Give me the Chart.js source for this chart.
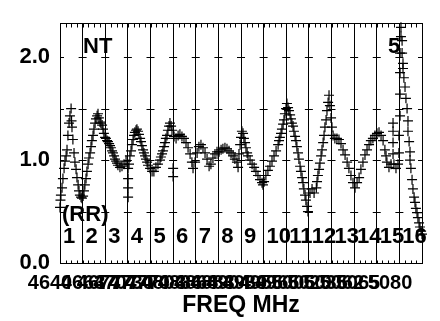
<!DOCTYPE html>
<html>
<head>
<meta charset="utf-8">
<script src="https://cdn.jsdelivr.net/npm/chart.js@4.4.1/dist/chart.umd.min.js"></script>
<style>
  body { margin: 0; background: #fff; }
  canvas { display: block; }
</style>
</head>
<body>
<canvas id="c" width="440" height="321"></canvas>
<script>
// x = position along the 16 channels (0..16), y = ratio
const xVals = [
  0.00, 0.02, 0.04, 0.09, 0.13, 0.18, 0.22, 0.27, 0.31, 0.35, 0.40, 0.44, 0.49, 0.51, 0.53, 0.57, 0.62, 0.66, 0.71, 0.75,
  0.80, 0.84, 0.88, 0.93, 0.97, 1.02, 1.06, 1.10, 1.15, 1.19, 1.24, 1.28, 1.33, 1.37, 1.41, 1.46, 1.50, 1.55, 1.59, 1.64,
  1.68, 1.72, 1.77, 1.81, 1.86, 1.90, 1.94, 1.99, 2.03, 2.08, 2.12, 2.17, 2.21, 2.25, 2.30, 2.34, 2.39, 2.43, 2.48, 2.52,
  2.56, 2.65, 2.74, 2.83, 2.92, 3.01, 3.01, 3.01, 3.01, 3.05, 3.09, 3.14, 3.18, 3.23, 3.27, 3.31, 3.36, 3.40, 3.45, 3.49,
  3.54, 3.58, 3.62, 3.67, 3.71, 3.76, 3.80, 3.85, 3.89, 3.98, 4.07, 4.15, 4.24, 4.33, 4.42, 4.46, 4.51, 4.55, 4.60, 4.64,
  4.68, 4.73, 4.77, 4.82, 4.86, 4.91, 4.95, 5.00, 5.00, 5.04, 5.13, 5.22, 5.30, 5.39, 5.48, 5.57, 5.66, 5.75, 5.83, 5.88,
  5.97, 6.06, 6.14, 6.23, 6.32, 6.41, 6.50, 6.59, 6.67, 6.76, 6.85, 6.94, 7.03, 7.12, 7.20, 7.29, 7.38, 7.47, 7.56, 7.65,
  7.73, 7.82, 7.87, 7.91, 7.96, 8.00, 8.04, 8.09, 8.13, 8.18, 8.22, 8.27, 8.31, 8.40, 8.49, 8.58, 8.66, 8.75, 8.84, 8.93,
  8.97, 9.02, 9.10, 9.19, 9.28, 9.37, 9.46, 9.55, 9.64, 9.68, 9.72, 9.77, 9.81, 9.86, 9.90, 9.94, 9.99, 10.03, 10.08, 10.12,
  10.17, 10.21, 10.25, 10.30, 10.34, 10.39, 10.43, 10.47, 10.52, 10.56, 10.61, 10.65, 10.70, 10.74, 10.78, 10.83, 10.87, 10.92, 10.96, 11.05,
  11.14, 11.23, 11.33, 11.36, 11.40, 11.45, 11.49, 11.54, 11.58, 11.63, 11.67, 11.71, 11.76, 11.80, 11.85, 11.89, 11.93, 11.98, 12.02, 12.07,
  12.15, 12.24, 12.33, 12.42, 12.51, 12.60, 12.69, 12.77, 12.86, 12.95, 13.04, 13.13, 13.22, 13.30, 13.39, 13.48, 13.57, 13.66, 13.74, 13.83,
  13.92, 14.01, 14.10, 14.19, 14.28, 14.36, 14.41, 14.45, 14.54, 14.63, 14.72, 14.72, 14.72, 14.72, 14.76, 14.85, 14.94, 14.98, 14.98, 15.03,
  15.03, 15.03, 15.03, 15.07, 15.07, 15.12, 15.12, 15.16, 15.16, 15.20, 15.25, 15.29, 15.34, 15.38, 15.38, 15.43, 15.47, 15.47, 15.51, 15.56,
  15.60, 15.65, 15.69, 15.73, 15.78, 15.82, 15.87, 15.91, 15.96, 16.00
];
const yVals = [
  0.54, 0.61, 0.66, 0.73, 0.82, 0.92, 0.99, 1.04, 1.10, 1.24, 1.36, 1.43, 1.50, 1.38, 1.32, 1.20, 1.07, 0.98, 0.91, 0.83,
  0.76, 0.70, 0.66, 0.64, 0.63, 0.65, 0.70, 0.76, 0.82, 0.89, 0.96, 1.02, 1.07, 1.13, 1.19, 1.24, 1.30, 1.36, 1.40, 1.43,
  1.45, 1.41, 1.37, 1.36, 1.34, 1.30, 1.26, 1.22, 1.21, 1.19, 1.18, 1.16, 1.14, 1.12, 1.09, 1.07, 1.04, 1.01, 0.99, 0.97,
  0.95, 0.93, 0.94, 0.96, 0.99, 0.92, 0.82, 0.73, 0.64, 0.96, 1.04, 1.09, 1.15, 1.20, 1.24, 1.27, 1.29, 1.30, 1.28, 1.25,
  1.21, 1.18, 1.14, 1.10, 1.07, 1.04, 1.01, 0.98, 0.95, 0.92, 0.89, 0.89, 0.93, 0.96, 1.00, 1.03, 1.06, 1.09, 1.13, 1.17,
  1.21, 1.24, 1.29, 1.33, 1.36, 1.33, 1.29, 0.92, 0.84, 1.23, 1.21, 1.24, 1.25, 1.23, 1.21, 1.17, 1.12, 1.06, 0.98, 0.92,
  0.98, 1.07, 1.13, 1.15, 1.12, 1.07, 1.01, 0.94, 0.96, 1.02, 1.06, 1.08, 1.08, 1.10, 1.11, 1.12, 1.11, 1.09, 1.07, 1.04,
  1.01, 0.98, 0.93, 1.06, 1.15, 1.22, 1.28, 1.26, 1.21, 1.17, 1.12, 1.07, 1.04, 1.00, 0.96, 0.93, 0.89, 0.85, 0.81, 0.78,
  0.76, 0.79, 0.85, 0.90, 0.94, 0.99, 1.04, 1.09, 1.15, 1.19, 1.22, 1.26, 1.30, 1.35, 1.39, 1.45, 1.50, 1.55, 1.51, 1.48,
  1.44, 1.40, 1.36, 1.33, 1.28, 1.23, 1.19, 1.13, 1.07, 1.01, 0.94, 0.89, 0.83, 0.78, 0.72, 0.66, 0.61, 0.55, 0.50, 0.68,
  0.72, 0.68, 0.73, 0.79, 0.85, 0.91, 0.97, 1.04, 1.10, 1.17, 1.24, 1.32, 1.39, 1.48, 1.56, 1.63, 1.53, 1.41, 1.32, 1.24,
  1.21, 1.21, 1.20, 1.16, 1.10, 1.05, 0.98, 0.92, 0.85, 0.78, 0.73, 0.78, 0.83, 0.91, 0.98, 1.05, 1.10, 1.15, 1.19, 1.21,
  1.24, 1.26, 1.27, 1.24, 1.19, 1.10, 1.04, 0.98, 0.93, 0.96, 1.06, 1.17, 1.28, 1.36, 0.96, 0.92, 0.96, 1.07, 1.24, 1.43,
  1.64, 1.85, 2.04, 2.20, 2.29, 2.16, 2.04, 1.94, 1.89, 1.80, 1.71, 1.60, 1.50, 1.38, 1.28, 1.18, 1.08, 1.00, 0.92, 0.81,
  0.72, 0.64, 0.59, 0.53, 0.49, 0.44, 0.39, 0.35, 0.31, 0.28
];

// frequency tick labels along the bottom (crowded, as in the original)
const freqTickPos = [0, 1.46, 2.17, 2.89, 3.60, 4.32, 5.03, 5.75, 6.46, 7.18, 7.89, 8.61, 9.32, 10.04, 10.75, 11.47, 12.18, 12.90, 13.61, 15.03];
const freqTickLabels = ['4640', '4663', '4677', '4707', '4730', '4770', '4803', '4836', '4868', '4883', '4904', '4939', '4956', '4966', '5006', '5020', '5036', '5062', '5065', '5080'];
const yTickPos = [0, 0.5, 1, 1.5, 2];
const yTickLabels = ['0.0', '', '1.0', '', '2.0'];
const channelLabels = ['1', '2', '3', '4', '5', '6', '7', '8', '9', '10', '11', '12', '13', '14', '15', '16'];
const notes = [
  { text: 'NT', x: 1.02, y: 2.04 },
  { text: '5', x: 14.5, y: 2.04 },
  { text: '(RR)', x: 0.09, y: 0.41 }
];

const FONT = '"Liberation Sans", Arial, Helvetica, sans-serif';
Chart.defaults.font.family = FONT;
Chart.defaults.color = '#000';

const points = xVals.map((x, i) => ({ x: x, y: yVals[i] }));

// frame, inner ticks, short horizontal marks and text labels
const decor = {
  id: 'decor',
  beforeDatasetsDraw(chart) {
    const { ctx, chartArea: a, scales: { x, y } } = chart;
    ctx.save();
    ctx.strokeStyle = '#000';
    ctx.lineWidth = 1;
    ctx.beginPath();
    yTickPos.forEach(v => {
      const py = Math.round(y.getPixelForValue(v)) + 0.5;
      for (let c = 0; c <= 16; c++) {
        const px = x.getPixelForValue(c);
        ctx.moveTo(Math.max(a.left, px - 4), py);
        ctx.lineTo(Math.min(a.right, px + 4), py);
      }
    });
    ctx.stroke();
    ctx.fillStyle = '#000';
    ctx.textAlign = 'left';
    ctx.textBaseline = 'alphabetic';
    ctx.font = 'bold 22px ' + FONT;
    notes.forEach(n => ctx.fillText(n.text, x.getPixelForValue(n.x), y.getPixelForValue(n.y)));
    channelLabels.forEach((c, i) => {
      ctx.fillText(c, x.getPixelForValue(i + 0.13), y.getPixelForValue(0.196));
    });
    ctx.restore();
  },
  afterDraw(chart) {
    const { ctx, chartArea: a, scales: { x } } = chart;
    ctx.save();
    ctx.strokeStyle = '#000';
    ctx.lineWidth = 1;
    const l = Math.round(a.left) + 0.5, t = Math.round(a.top) + 0.5;
    const r = Math.round(a.right) + 0.5, b = Math.round(a.bottom) + 0.5;
    ctx.strokeRect(l, t, r - l, b - t);
    ctx.beginPath();
    for (let q = 0; q <= 64; q++) {
      const px = Math.round(x.getPixelForValue(q / 4)) + 0.5;
      ctx.moveTo(px, t); ctx.lineTo(px, t + 4);
      ctx.moveTo(px, b); ctx.lineTo(px, b - 3);
    }
    ctx.stroke();
    ctx.restore();
  }
};

new Chart(document.getElementById('c'), {
  type: 'scatter',
  data: {
    datasets: [{
      data: points,
      showLine: false,
      pointStyle: 'cross',
      pointRadius: 5,
      pointBorderWidth: 1.2,
      borderColor: '#000',
      backgroundColor: '#000',
      clip: false
    }]
  },
  options: {
    responsive: false,
    animation: false,
    events: [],
    layout: { padding: { left: 0, right: 18, top: 13, bottom: 0 } },
    plugins: { legend: { display: false }, tooltip: { enabled: false } },
    scales: {
      x: {
        type: 'linear', position: 'bottom', min: 0, max: 16,
        afterBuildTicks: s => { s.ticks = freqTickPos.map(v => ({ value: v })); },
        afterFit: s => { s.height = 58; },
        ticks: {
          autoSkip: false, maxRotation: 0, padding: 8, labelOffset: -10,
          font: { size: 20, weight: 'bold' },
          callback: (v, i) => freqTickLabels[i]
        },
        grid: { display: false, drawTicks: false },
        border: { display: false },
        title: {
          display: true, text: 'FREQ MHz',
          font: { size: 23, weight: 'bold' },
          padding: { top: 0, bottom: 2 }
        }
      },
      top: {
        type: 'linear', position: 'top', min: 0, max: 16,
        afterFit: s => { s.height = 0; },
        ticks: { display: false, stepSize: 1 },
        grid: { color: '#000', lineWidth: 1, drawTicks: false },
        border: { display: false }
      },
      y: {
        type: 'linear', min: 0, max: 2.33,
        afterBuildTicks: s => { s.ticks = yTickPos.map(v => ({ value: v })); },
        afterFit: s => { s.width = 60; },
        ticks: {
          padding: 10,
          font: { size: 22, weight: 'bold' },
          callback: (v, i) => yTickLabels[i]
        },
        grid: { display: false, drawTicks: false },
        border: { display: false }
      }
    }
  },
  plugins: [decor]
});
</script>
</body>
</html>
